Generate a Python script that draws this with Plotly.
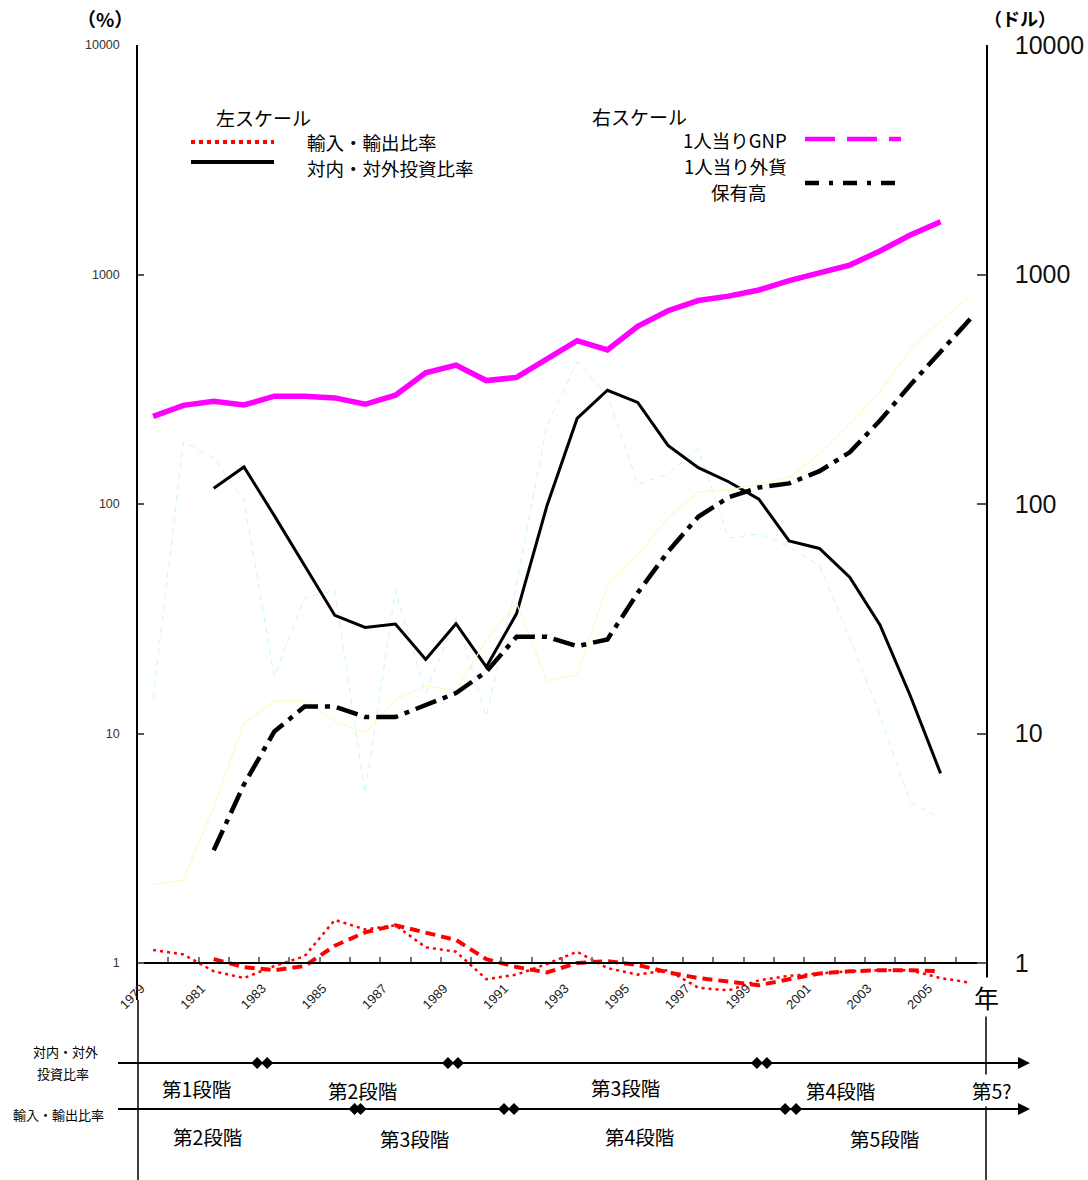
import plotly.graph_objects as go

# ---- data -------------------------------------------------------------
years = list(range(1979, 2007))

# 左スケール (%)
trade_ratio = [1.14, 1.09, 0.92, 0.86, 0.97, 1.07, 1.54, 1.40, 1.46, 1.17,
               1.12, 0.85, 0.89, 0.99, 1.12, 0.95, 0.89, 0.93, 0.78, 0.76,
               0.84, 0.88, 0.90, 0.92, 0.93, 0.93, 0.86, 0.82]
trade_ratio_trend = [None, None, 1.04, 0.96, 0.93, 0.97, 1.19, 1.36, 1.46, 1.36,
                     1.26, 1.04, 0.96, 0.91, 1.00, 1.02, 0.98, 0.91, 0.86, 0.83,
                     0.80, 0.85, 0.90, 0.92, 0.93, 0.93, 0.92, None]
invest_ratio = [None, None, 117, 145, 89, 54, 32.7, 29.0, 30.0, 21.0,
                30.1, 19.5, 33.3, 98, 236, 313, 277, 180, 144, 125,
                105, 69, 64, 48, 29.7, 14.6, 6.7, None]
invest_ratio_shadow = [14.3, 187, 158, 104, 17.7, 39, 42, 5.5, 42, 15,
                       32, 11.9, 45, 220, 417, 297, 122, 135, 174, 71,
                       74, 65, 54, 26, 12, 5.0, 4.3, None]

# 右スケール (ドル)
gnp_per_capita = [241, 269, 280, 270, 295, 295, 290, 272, 298, 373,
                  403, 345, 356, 427, 515, 469, 595, 695, 770, 805,
                  856, 940, 1018, 1099, 1266, 1486, 1698, None]
forex_per_capita = [None, None, 3.1, 6.0, 10.2, 13.1, 13.1, 11.8, 11.8, 13.3,
                    15.0, 18.6, 26.4, 26.4, 24.0, 25.7, 41, 62, 88, 107,
                    118, 123, 139, 168, 231, 330, 464, 644]
forex_shadow = [2.2, 2.3, 4.8, 11.1, 13.9, 13.9, 11.3, 10.1, 14.0, 16.1,
                15.4, 25.5, 37, 17, 18, 44, 60, 87, 113, 115,
                122, 131, 165, 223, 308, 472, 628, 813]

label_years = list(range(1979, 2006, 2))
y_ticks = [1, 10, 100, 1000, 10000]

# development stages shown under the chart (boundaries in year units)
invest_stages = ["第1段階", "第2段階", "第3段階", "第4段階", "第5?"]
invest_bounds = [1982.6, 1988.9, 1999.1]
trade_stages = ["第2段階", "第3段階", "第4段階", "第5段階"]
trade_bounds = [1985.75, 1990.75, 2000.05]

# ---- geometry helpers ---------------------------------------------------
W, H = 1088, 1180
L, R, T, B = 138, 986, 45, 1000
X0, X1 = 1978.5, 2006.5
DEC = 229.5  # pixels per decade on both log axes
AXIS_Y = 963  # pixel row of value 1


def px(x):
    return (x - L) / (R - L)


def py(y):
    return (B - y) / (B - T)


def year_px(yr):
    return L + (yr - X0) * (R - L) / (X1 - X0)


JP = "Noto Sans CJK JP"
NUM = "Liberation Sans"

fig = go.Figure()

# faint background series
fig.add_trace(go.Scatter(x=years, y=invest_ratio_shadow, mode="lines",
                         line=dict(color="#c9f7f7", width=1, dash="6px,5px"),
                         hoverinfo="skip"))
fig.add_trace(go.Scatter(x=years, y=forex_shadow, mode="lines", yaxis="y2",
                         line=dict(color="#fbfbc6", width=1.2),
                         hoverinfo="skip"))

# left scale
fig.add_trace(go.Scatter(x=years, y=trade_ratio_trend, mode="lines",
                         line=dict(color="#ff0000", width=4, dash="10px,6px")))
fig.add_trace(go.Scatter(x=years, y=trade_ratio, mode="lines",
                         line=dict(color="#ff0000", width=2.5, dash="3px,4px")))
fig.add_trace(go.Scatter(x=years, y=invest_ratio, mode="lines",
                         line=dict(color="#000000", width=3)))

# right scale
fig.add_trace(go.Scatter(x=years, y=gnp_per_capita, mode="lines", yaxis="y2",
                         line=dict(color="#ff00ff", width=5.5)))
fig.add_trace(go.Scatter(x=years, y=forex_per_capita, mode="lines", yaxis="y2",
                         line=dict(color="#000000", width=4.5,
                                   dash="22px,7px,5px,7px")))

yr_lo = -(B - AXIS_Y) / DEC
yr_hi = 4.0

fig.update_layout(
    width=W, height=H,
    margin=dict(l=L, r=W - R, t=T, b=H - B, pad=0, autoexpand=False),
    paper_bgcolor="white", plot_bgcolor="white",
    showlegend=False,
    xaxis=dict(
        range=[X0, X1], anchor="free", position=py(AXIS_Y), automargin=False,
        showline=True, linecolor="black", linewidth=1.5,
        showgrid=False, zeroline=False,
        tickmode="array", tickvals=[y - 0.4 for y in label_years],
        ticktext=[str(y) for y in label_years],
        ticks="", tickangle=-45, ticklabelstandoff=12,
        tickfont=dict(family=NUM, size=13, color="#222"),
        minor=dict(tickmode="array",
                   tickvals=[y + 0.5 for y in years[:-1]],
                   ticks="inside", ticklen=5, tickcolor="#777", tickwidth=1.5,
                   showgrid=False),
    ),
    yaxis=dict(
        type="log", range=[yr_lo, yr_hi], automargin=False,
        showline=True, linecolor="black", linewidth=1.5,
        showgrid=False, zeroline=False,
        tickmode="array", tickvals=y_ticks, ticktext=[str(v) for v in y_ticks],
        ticks="inside", ticklen=6, tickcolor="#555", tickwidth=1.5,
        ticklabelstandoff=14,
        tickfont=dict(family=NUM, size=12.5, color="#333"),
    ),
    yaxis2=dict(
        type="log", range=[yr_lo, yr_hi], overlaying="y", side="right",
        automargin=False,
        showline=True, linecolor="black", linewidth=1.5,
        showgrid=False, zeroline=False,
        tickmode="array", tickvals=y_ticks, ticktext=[str(v) for v in y_ticks],
        ticks="inside", ticklen=9, tickcolor="#555", tickwidth=1.5,
        ticklabelstandoff=22,
        tickfont=dict(family=NUM, size=25, color="#111"),
    ),
)

shapes = []
annotations = []


def hline(x0, x1, y, color="black", width=2, dash=None):
    ln = dict(color=color, width=width)
    if dash:
        ln["dash"] = dash
    shapes.append(dict(type="line", xref="paper", yref="paper",
                       x0=px(x0), x1=px(x1), y0=py(y), y1=py(y), line=ln))


def text(s, x, y, size, xanchor="center", bold=False, bg=None, color="black",
         family=JP):
    a = dict(text=f"<b>{s}</b>" if bold else s, xref="paper", yref="paper",
             x=px(x), y=py(y), xanchor=xanchor, yanchor="middle",
             showarrow=False, borderpad=0,
             font=dict(family=family, size=size, color=color))
    if bg:
        a["bgcolor"] = bg
        a["borderpad"] = 1
    annotations.append(a)


def diamond(x, y, r=6):
    shapes.append(dict(
        type="path", xref="paper", yref="paper",
        path=(f"M {px(x - r)},{py(y)} L {px(x)},{py(y - r)} "
              f"L {px(x + r)},{py(y)} L {px(x)},{py(y + r)} Z"),
        fillcolor="black", line=dict(color="black", width=0)))


def arrow_head(x, y):
    shapes.append(dict(
        type="path", xref="paper", yref="paper",
        path=(f"M {px(x - 12)},{py(y - 6)} L {px(x)},{py(y)} "
              f"L {px(x - 12)},{py(y + 6)} Z"),
        fillcolor="black", line=dict(color="black", width=0)))


# axis lines continue below the plot
for xv in (L, R):
    shapes.append(dict(type="line", xref="paper", yref="paper",
                       x0=px(xv), x1=px(xv), y0=py(B), y1=py(H),
                       line=dict(color="black", width=1.5)))

# axis titles
text("（%）", 105, 18, 19, bold=True)
text("（ドル）", 1020, 18, 18, bold=True)
text("年", 986, 997, 25, bg="white")

# legend block, left scale
text("左スケール", 215, 118, 19, xanchor="left")
hline(191, 274, 142, color="#ff0000", width=4, dash="4px,4px")
text("輸入・輸出比率", 306, 142, 18.5, xanchor="left")
hline(191, 274, 162, color="black", width=4)
text("対内・対外投資比率", 306, 168, 18.5, xanchor="left")

# legend block, right scale
text("右スケール", 591, 116, 19, xanchor="left")
text("1人当りGNP", 788, 140, 18.5, xanchor="right")
hline(805, 901, 139, color="#ff00ff", width=4.5, dash="30px,12px")
text("1人当り外貨", 788, 166, 18.5, xanchor="right")
text("保有高", 739, 192, 18.5)
hline(805, 901, 183, color="black", width=4.5, dash="14px,10px,4px,10px")

# stage timelines
LINE1, LINE2 = 1063, 1109
for yl in (LINE1, LINE2):
    hline(118, 1020, yl, width=2)
    arrow_head(1030, yl)

text("対内・対外", 65, 1051, 13)
text("投資比率", 63, 1073, 13)
text("輸入・輸出比率", 58, 1114, 13)

for b in invest_bounds:
    c = year_px(b)
    diamond(c - 5, LINE1)
    diamond(c + 5, LINE1)
for b, gap in zip(trade_bounds, (3, 5, 5.5)):
    c = year_px(b)
    diamond(c - gap, LINE2)
    diamond(c + gap, LINE2)

invest_label_x = [196, 362, 625, 840, 992]
invest_label_y = [1088, 1090, 1087, 1090, 1090]
for s, xv, yv in zip(invest_stages, invest_label_x, invest_label_y):
    text(s, xv, yv, 19.5, bg="white" if s.endswith("?") else None)

trade_label_x = [207, 414, 639, 884]
trade_label_y = [1136, 1138, 1136, 1138]
for s, xv, yv in zip(trade_stages, trade_label_x, trade_label_y):
    text(s, xv, yv, 19.5)

fig.update_layout(shapes=shapes, annotations=annotations)

fig.write_html("out.html")
